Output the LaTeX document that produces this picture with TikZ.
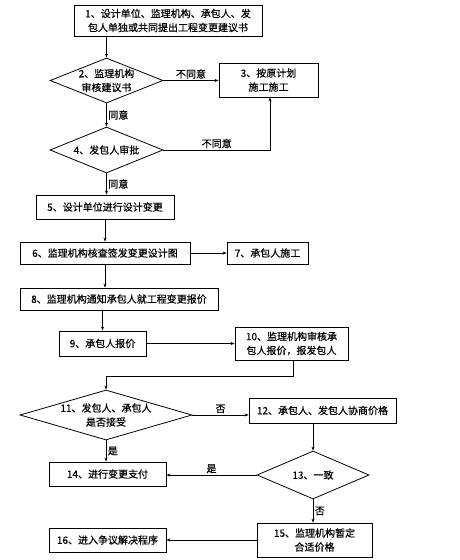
\documentclass[tikz,border=0pt]{standalone}
\usepackage{fontspec}
\newfontfamily\cjk[FakeBold=0.6]{Noto Sans CJK SC}
\usetikzlibrary{shapes.geometric,arrows.meta}
\begin{document}
\begin{tikzpicture}[x=1pt,y=-1pt,
  every node/.style={font=\cjk\fontsize{10}{14}\selectfont},
  box/.style={draw,line width=0.8pt,inner sep=0pt,align=center},
  dia/.style={draw,diamond,line width=0.8pt,inner sep=0pt},
  txt/.style={align=center,inner sep=0pt},
  lab/.style={inner sep=1.5pt},
  arr/.style={line width=0.7pt,-{Stealth[length=4pt,width=3pt]}}]
\useasboundingbox (0,0) rectangle (460,560);
\node[box,minimum width=188pt,minimum height=31pt] (n1) at (168,20.5) {1、设计单位、监理机构、承包人、发\\包人单独或共同提出工程变更建议书};
\node[dia,minimum width=113pt,minimum height=45pt] (n2) at (106.5,80.5) {};
\node[txt] (t2) at (n2) {2、监理机构\\审核建议书};
\node[box,minimum width=99pt,minimum height=34pt] (n3) at (268.5,80) {3、按原计划\\施工施工};
\node[dia,minimum width=113pt,minimum height=46pt] (n4) at (106.5,150) {};
\node[txt] (t4) at (n4) {4、发包人审批};
\node[box,minimum width=138pt,minimum height=24pt] (n5) at (105,207) {5、设计单位进行设计变更};
\node[box,minimum width=170pt,minimum height=22pt] (n6) at (105,253) {6、监理机构核查签发变更设计图};
\node[box,minimum width=81pt,minimum height=22pt] (n7) at (267.5,253) {7、承包人施工};
\node[box,minimum width=198pt,minimum height=22pt] (n8) at (119,299) {8、监理机构通知承包人就工程变更报价};
\node[box,minimum width=87pt,minimum height=25pt] (n9) at (102.5,343.5) {9、承包人报价};
\node[box,minimum width=113pt,minimum height=33pt] (n10) at (291.5,343.5) {10、监理机构审核承\\包人报价，报发包人};
\node[dia,minimum width=172pt,minimum height=50pt] (n11) at (106,415) {};
\node[txt] (t11) at (n11) {11、发包人、承包人\\是否接受};
\node[box,minimum width=147pt,minimum height=25pt] (n12) at (322.5,410.5) {12、承包人、发包人协商价格};
\node[dia,minimum width=112pt,minimum height=48pt] (n13) at (313,475) {};
\node[txt] (t13) at (n13) {13、一致};
\node[box,minimum width=117pt,minimum height=24pt] (n14) at (107.5,474) {14、进行变更支付};
\node[box,minimum width=115pt,minimum height=34pt] (n15) at (314.5,540) {15、监理机构暂定\\合适价格};
\node[box,minimum width=117pt,minimum height=24pt] (n16) at (107.5,540) {16、进入争议解决程序};
\coordinate (c4) at (270,150);
\coordinate (c10) at (293,376);
\coordinate (c11) at (106,376);
\draw[arr] (n1.south -| n2.north) -- (n2.north);
\draw[arr] (n2.east) -- node[lab,above]{不同意} (n2.east -| n3.west);
\draw[arr] (n2.south) -- node[lab,right,pos=0.5]{同意} (n4.north);
\draw[arr] (n4.east) -- node[lab,above]{不同意} (c4) -- (c4 |- n3.south);
\draw[arr] (n4.south) -- node[lab,right]{同意} (n4.south |- n5.north);
\draw[arr] (n5.south) -- (n5.south |- n6.north);
\draw[arr] (n6.east) -- (n7.west);
\draw[arr] (n6.south) -- (n6.south |- n8.north);
\draw[arr] (n8.south -| n9.north) -- (n9.north);
\draw[arr] (n9.east) -- (n9.east -| n10.west);
\draw[arr] (n10.south -| c10) -- (c10) -- (c11) -- (n11.north);
\draw[arr] (n11.east) -- node[lab,above]{否} (n11.east -| n12.west);
\draw[arr] (n12.south -| n13.north) -- (n13.north);
\draw[arr] (n11.south) -- node[lab,right]{是} (n11.south |- n14.north);
\draw[arr] (n13.west) -- node[lab,above]{是} (n13.west -| n14.east);
\draw[arr] (n13.south) -- node[lab,right]{否} (n13.south |- n15.north);
\draw[arr] (n15.west |- n16.east) -- (n16.east);
\end{tikzpicture}
\end{document}
